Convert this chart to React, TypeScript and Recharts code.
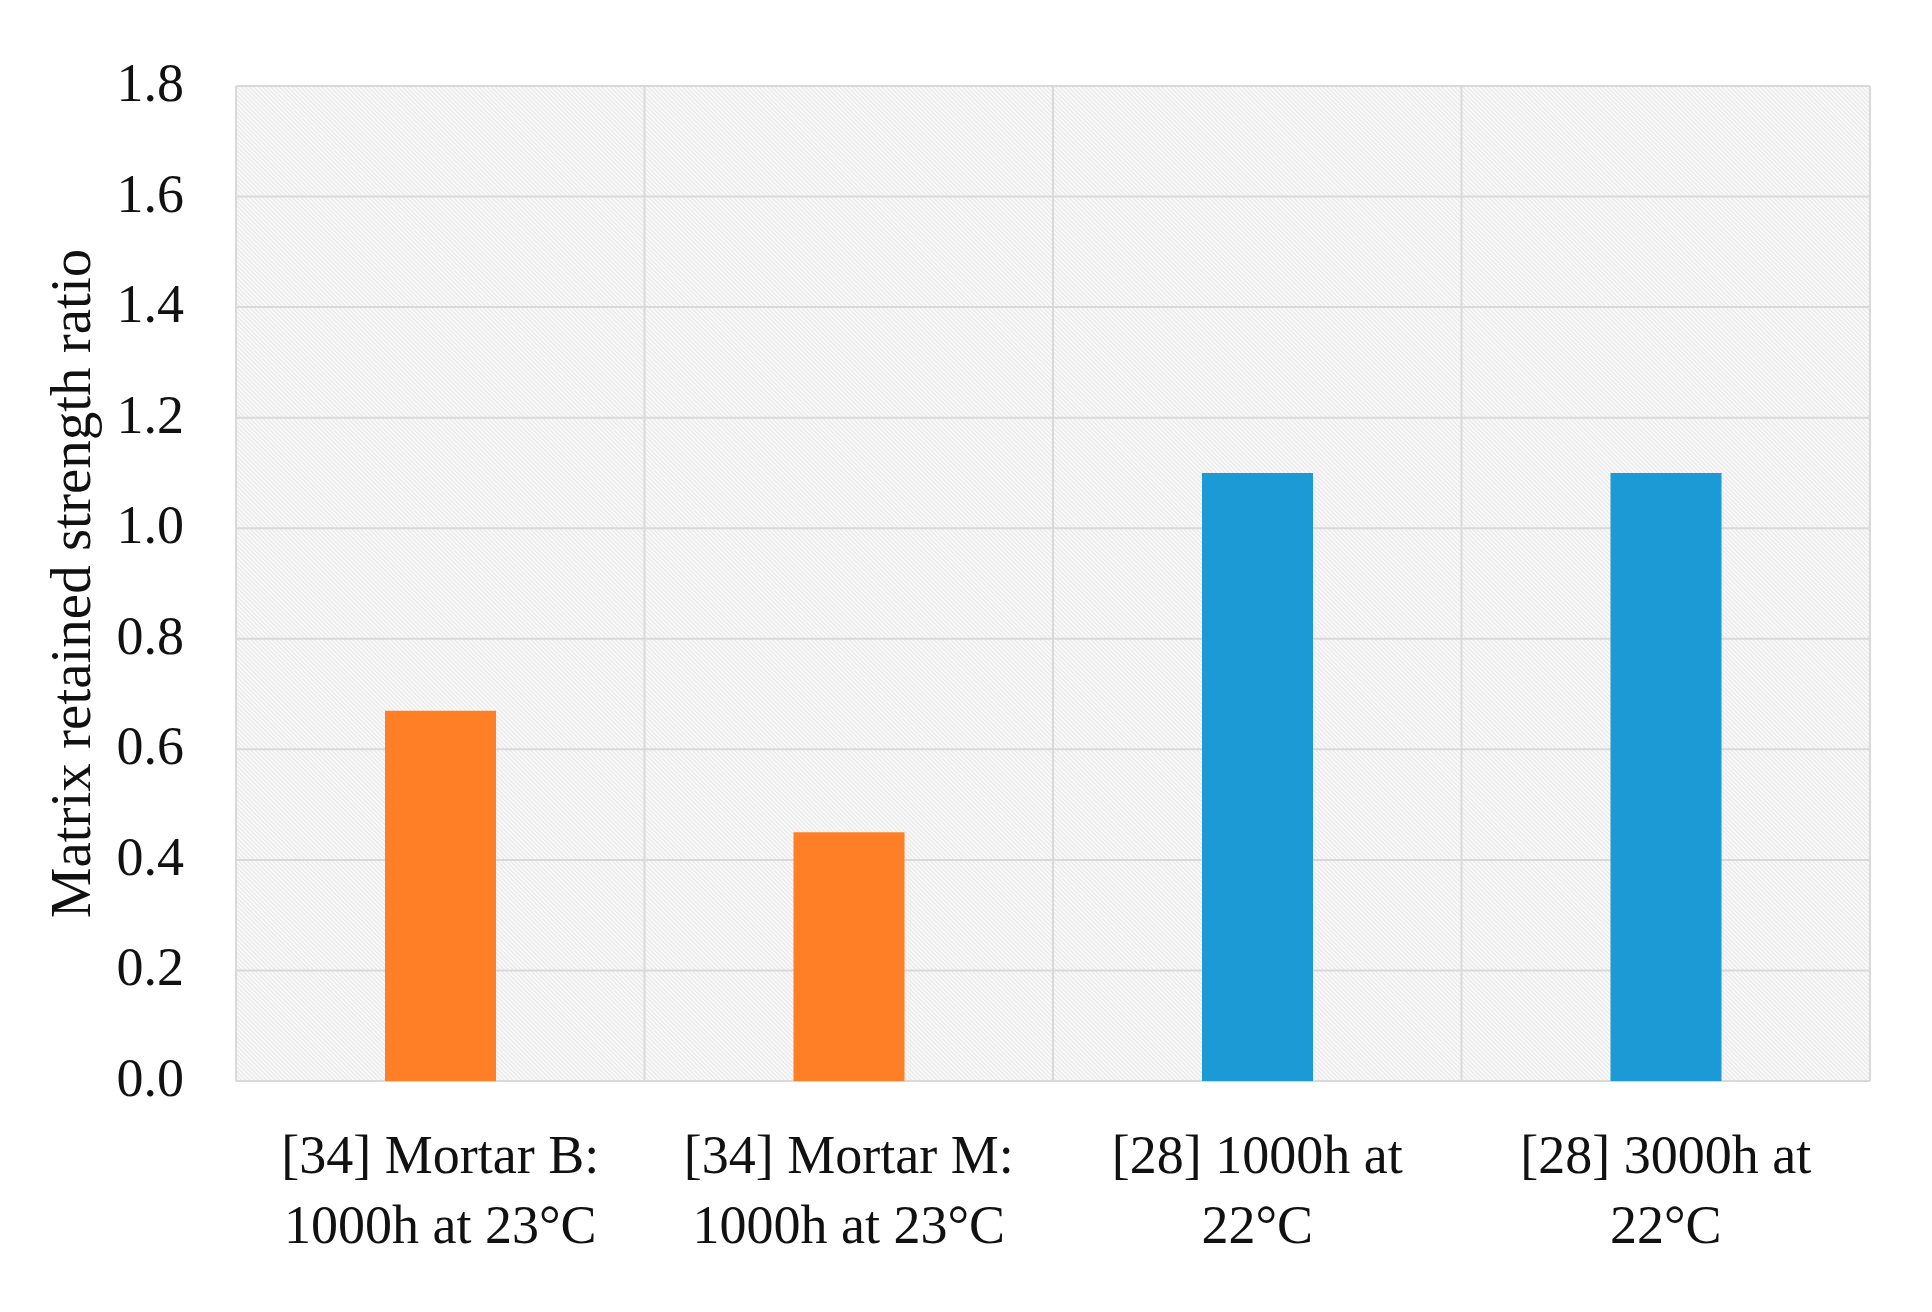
import { BarChart, Bar, XAxis, YAxis, CartesianGrid, Cell } from "recharts";

const categories = [
  "[34] Mortar B:\n1000h at 23°C",
  "[34] Mortar M:\n1000h at 23°C",
  "[28] 1000h at\n22°C",
  "[28] 3000h at\n22°C",
];
const ratios = [0.67, 0.45, 1.1, 1.1];
const barColors = ["#FF7F27", "#FF7F27", "#1C9AD6", "#1C9AD6"];
const yTicks = [0, 0.2, 0.4, 0.6, 0.8, 1.0, 1.2, 1.4, 1.6, 1.8];

const FONT = '"Liberation Serif", "Times New Roman", serif';
const GRID = "#d9d9d9";

const data = categories.map((name, i) => ({ name, ratio: ratios[i] }));

function CategoryTick(props: any) {
  const { x, y, payload } = props;
  const lines = String(payload.value).split("\n");
  return (
    <text x={x} y={y} textAnchor="middle" fontFamily={FONT} fontSize={54} fill="#111">
      {lines.map((l, i) => (
        <tspan key={i} x={x} dy={i === 0 ? 92 : 70}>
          {l}
        </tspan>
      ))}
    </text>
  );
}

function ValueTick(props: any) {
  const { x, y, payload } = props;
  return (
    <text x={x} y={y + 15} textAnchor="end" fontFamily={FONT} fontSize={54} fill="#111">
      {Number(payload.value).toFixed(1)}
    </text>
  );
}

function YLabel(props: any) {
  const vb = props.viewBox || {};
  const cy = (vb.y || 0) + (vb.height || 0) / 2;
  const x = 82;
  return (
    <text
      x={x}
      y={cy}
      transform={`rotate(-90, ${x}, ${cy})`}
      textAnchor="middle"
      fontFamily={FONT}
      fontSize={57}
      fill="#111"
    >
      Matrix retained strength ratio
    </text>
  );
}

export default function App() {
  return (
    <BarChart
      width={1916}
      height={1296}
      data={data}
      margin={{ top: 78, right: 54, bottom: 23, left: 0 }}
    >
      <defs>
        <pattern
          id="hatch"
          width="3"
          height="3"
          patternUnits="userSpaceOnUse"
          patternTransform="rotate(-45)"
        >
          <rect width="3" height="3" fill="#ffffff" />
          <line x1="1" y1="0" x2="1" y2="3" stroke="#dedede" strokeWidth={1.1} />
        </pattern>
      </defs>
      <CartesianGrid
        fill="url(#hatch)"
        fillOpacity={1}
        stroke={GRID}
        strokeWidth={2}
        verticalCoordinatesGenerator={({ offset }: any) =>
          [0, 1, 2, 3, 4].map((i) => offset.left + (i * offset.width) / 4)
        }
      />
      <XAxis
        dataKey="name"
        axisLine={false}
        tickLine={false}
        tickSize={0}
        tickMargin={0}
        height={200}
        interval={0}
        tick={<CategoryTick />}
      />
      <YAxis
        domain={[0, 1.8]}
        ticks={yTicks}
        width={228}
        axisLine={false}
        tickLine={false}
        tickSize={0}
        tickMargin={52}
        tick={<ValueTick />}
        label={<YLabel />}
      />
      <Bar dataKey="ratio" barSize={111} isAnimationActive={false}>
        {data.map((_, i) => (
          <Cell key={i} fill={barColors[i]} />
        ))}
      </Bar>
    </BarChart>
  );
}
